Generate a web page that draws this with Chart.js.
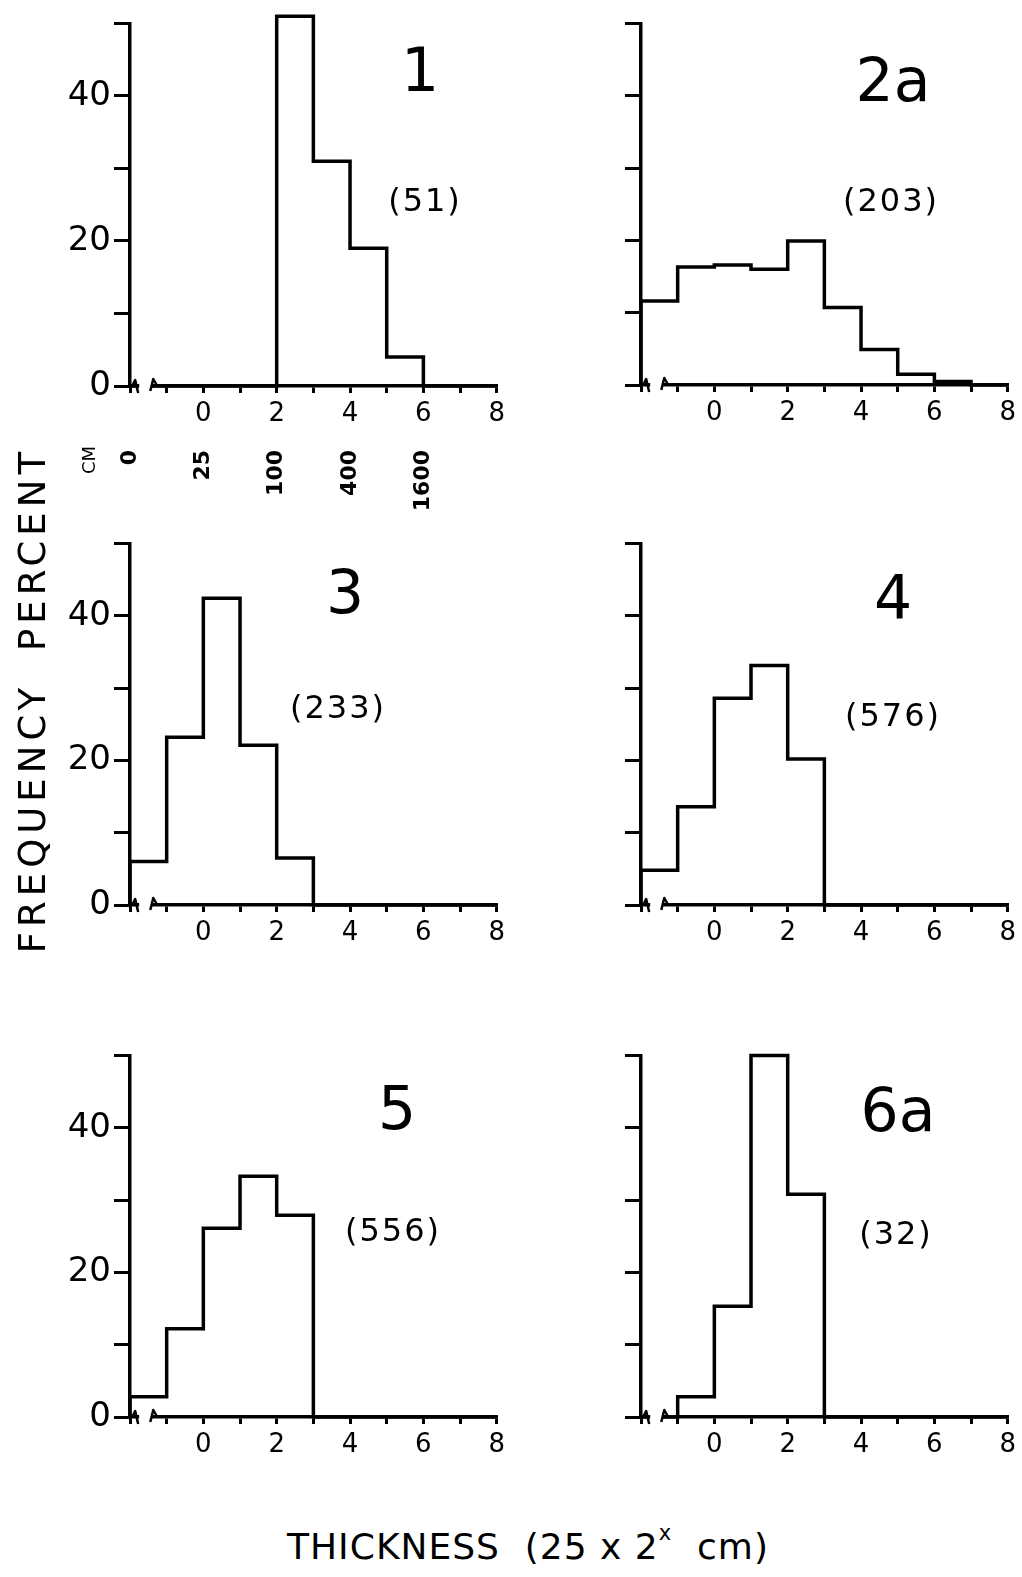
<!DOCTYPE html>
<html>
<head>
<meta charset="utf-8">
<script src="https://cdn.jsdelivr.net/npm/chart.js@4.4.1/dist/chart.umd.min.js"></script>
<style>
  html, body { margin: 0; padding: 0; background: #fff; }
  body { width: 1022px; height: 1577px; position: relative; overflow: hidden; font-family: "DejaVu Sans", sans-serif; color: #000; }
  canvas { position: absolute; }
  .lbl { position: absolute; transform: translate(-50%, -50%); white-space: nowrap; line-height: 1; }
  .big { font-size: 60px; }
  .count { font-size: 32px; letter-spacing: 2px; }
  .vert { position: absolute; writing-mode: vertical-rl; transform: translate(-50%, -50%) rotate(180deg); font-size: 37px; letter-spacing: 5px; white-space: nowrap; line-height: 1; }
  .title { font-size: 36px; letter-spacing: 1px; }
  .title sup { font-size: 21px; position: relative; top: -6px; }
</style>
</head>
<body>
<canvas id="c1" width="511" height="530" style="left:0;top:0"></canvas>
<canvas id="c2" width="511" height="440" style="left:511px;top:0"></canvas>
<canvas id="c3" width="511" height="440" style="left:0;top:520px"></canvas>
<canvas id="c4" width="511" height="440" style="left:511px;top:520px"></canvas>
<canvas id="c5" width="511" height="440" style="left:0;top:1032px"></canvas>
<canvas id="c6" width="511" height="440" style="left:511px;top:1032px"></canvas>

<div class="lbl big" style="left:420px;top:70px">1</div>
<div class="lbl count" style="left:425px;top:200px">(51)</div>
<div class="lbl big" style="left:893px;top:80px">2a</div>
<div class="lbl count" style="left:891px;top:200px">(203)</div>
<div class="lbl big" style="left:345px;top:592px">3</div>
<div class="lbl count" style="left:338px;top:707px">(233)</div>
<div class="lbl big" style="left:893px;top:597px">4</div>
<div class="lbl count" style="left:893px;top:715px">(576)</div>
<div class="lbl big" style="left:397px;top:1108px">5</div>
<div class="lbl count" style="left:393px;top:1230px">(556)</div>
<div class="lbl big" style="left:898px;top:1110px">6a</div>
<div class="lbl count" style="left:896px;top:1233px">(32)</div>

<div class="vert" style="left:32px;top:549px">PERCENT</div>
<div class="vert" style="left:32px;top:818px">FREQUENCY</div>
<div class="lbl title" style="left:528px;top:1547px">THICKNESS&nbsp; (25 x 2<sup>x</sup>&nbsp; cm)</div>

<script>
// left edge of each bin, thickness class x (25 x 2^x cm)
const binEdges = [-2, -1, 0, 1, 2, 3, 4, 5, 6, 7, 8];

// percent in each bin
const site1 = [0, 0, 0, 0, 51, 31, 19, 4, 0, 0];
const site2a = [11.6, 16.3, 16.6, 16.0, 19.9, 10.7, 4.9, 1.5, 0.5, 0];
const site3 = [6, 23.2, 42.4, 22.1, 6.5, 0, 0, 0, 0, 0];
const site4 = [4.8, 13.6, 28.6, 33.1, 20.2, 0, 0, 0, 0, 0];
const site5 = [2.8, 12.2, 26.1, 33.3, 27.9, 0, 0, 0, 0, 0];
const site6a = [0, 2.8, 15.3, 50, 30.8, 0, 0, 0, 0, 0];

const xTickLabels = [0, 2, 4, 6, 8];
const yTickLabels = [0, 20, 40];
const cmLabels = ['0', '25', '100', '400', '1600'];
const cmPositions = [-2, 0, 2, 4, 6];

Chart.defaults.font.family = '"DejaVu Sans", sans-serif';
Chart.defaults.color = '#000';

function stepPoints(values) {
    const pts = [{ x: binEdges[0], y: 0 }];
    values.forEach((v, i) => pts.push({ x: binEdges[i], y: v }));
    pts.push({ x: binEdges[binEdges.length - 1], y: 0 });
    return pts;
}

// white gap with two squiggles on the x axis between -2 and -1
const axisBreak = {
    id: 'axisBreak',
    afterDraw(chart) {
        const ctx = chart.ctx;
        const xs = chart.scales.x;
        const y0 = chart.chartArea.bottom;
        const a = xs.getPixelForValue(-1.75);
        const b = xs.getPixelForValue(-1.42);
        ctx.save();
        ctx.fillStyle = '#fff';
        ctx.fillRect(a, y0 - 5, b - a, 10);
        ctx.strokeStyle = '#000';
        ctx.lineWidth = 2.5;
        ctx.lineJoin = 'round';
        ctx.beginPath();
        ctx.moveTo(a - 7, y0);
        ctx.lineTo(a - 4, y0 - 6);
        ctx.lineTo(a - 1, y0 + 7);
        ctx.moveTo(b - 1, y0 + 5);
        ctx.lineTo(b + 2, y0 - 7);
        ctx.lineTo(b + 6, y0);
        ctx.stroke();
        ctx.restore();
    }
};

// cm scale printed under the first panel
const cmScale = {
    id: 'cmScale',
    afterDraw(chart) {
        const ctx = chart.ctx;
        const xs = chart.scales.x;
        ctx.save();
        ctx.fillStyle = '#000';
        ctx.textAlign = 'right';
        ctx.textBaseline = 'middle';
        ctx.font = 'bold 22px "DejaVu Sans"';
        cmLabels.forEach((t, i) => {
            ctx.save();
            ctx.translate(xs.getPixelForValue(cmPositions[i]), 450);
            ctx.rotate(-Math.PI / 2);
            ctx.fillText(t, 0, 0);
            ctx.restore();
        });
        ctx.font = '18px "DejaVu Sans"';
        ctx.translate(90, 446);
        ctx.rotate(-Math.PI / 2);
        ctx.fillText('CM', 0, 0);
        ctx.restore();
    }
};

function makePanel(id, values, showY, topPad, extra) {
    const canvas = document.getElementById(id);
    const xh = canvas.height - 386 + (topPad - 22);
    const plugins = [axisBreak];
    if (extra) plugins.push(extra);
    new Chart(canvas, {
        type: 'line',
        data: {
            datasets: [{
                data: stepPoints(values),
                stepped: true,
                borderColor: '#000',
                borderWidth: 3.5,
                pointRadius: 0,
                fill: false,
                clip: false
            }]
        },
        options: {
            responsive: false,
            animation: false,
            events: [],
            layout: { padding: { top: topPad, right: 14, left: 0, bottom: 0 } },
            plugins: { legend: { display: false }, tooltip: { enabled: false } },
            scales: {
                x: {
                    type: 'linear',
                    min: -2,
                    max: 8,
                    afterFit(s) { s.height = xh; },
                    border: { display: true, color: '#000', width: 3.5 },
                    grid: { drawOnChartArea: false, drawTicks: true, tickLength: 7, color: '#000', lineWidth: 3 },
                    ticks: {
                        stepSize: 1,
                        padding: 6,
                        maxRotation: 0,
                        autoSkip: false,
                        font: { size: 26 },
                        callback: v => xTickLabels.includes(v) ? String(v) : ''
                    }
                },
                y: {
                    min: 0,
                    max: 50,
                    afterFit(s) { s.width = 130; },
                    border: { display: true, color: '#000', width: 3.5 },
                    grid: { drawOnChartArea: false, drawTicks: true, tickLength: 16, color: '#000', lineWidth: 3 },
                    ticks: {
                        stepSize: 10,
                        padding: 3,
                        autoSkip: false,
                        font: { size: 34 },
                        callback: v => (showY && yTickLabels.includes(v)) ? String(v) : ''
                    }
                }
            }
        },
        plugins: plugins
    });
}

makePanel('c1', site1, true, 22, cmScale);
makePanel('c2', site2a, false, 23);
makePanel('c3', site3, true, 23);
makePanel('c4', site4, false, 23);
makePanel('c5', site5, true, 23);
makePanel('c6', site6a, false, 23);
</script>
</body>
</html>
